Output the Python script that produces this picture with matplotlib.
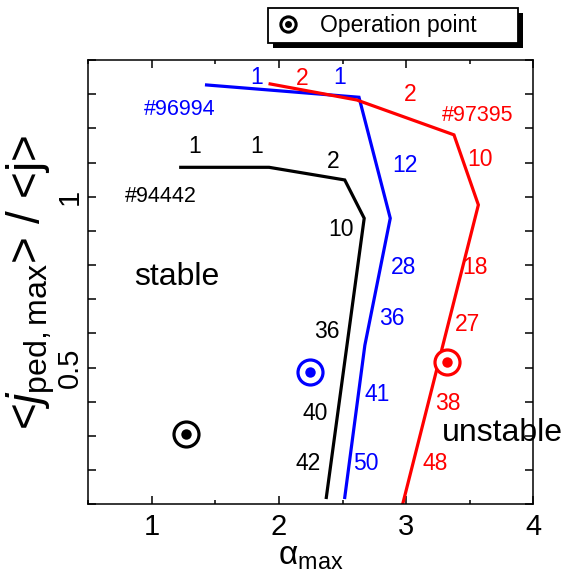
import matplotlib
matplotlib.use("Agg")
import matplotlib.pyplot as plt
from matplotlib.lines import Line2D
from matplotlib.patches import Rectangle
from matplotlib.ticker import FixedLocator, FuncFormatter, MultipleLocator

plt.rcParams['font.family'] = ['Liberation Sans', 'DejaVu Sans']
plt.rcParams['mathtext.fontset'] = 'custom'
plt.rcParams['mathtext.rm'] = 'Liberation Sans'
plt.rcParams['mathtext.it'] = 'Liberation Sans:italic'
plt.rcParams['mathtext.bf'] = 'Liberation Sans:bold'

# ---- data ----
black_x = [1.227, 1.922, 2.517, 2.670, 2.372]
black_y = [1.086, 1.086, 1.049, 0.937, 0.120]
blue_x = [1.430, 2.629, 2.875, 2.675, 2.517]
blue_y = [1.327, 1.291, 0.937, 0.565, 0.120]
red_x = [1.930, 2.612, 3.376, 3.568, 2.975]
red_y = [1.330, 1.283, 1.181, 0.976, 0.104]

op_x = [1.265, 2.244, 3.325]
op_y = [0.307, 0.487, 0.516]
op_colors = ['black', 'blue', 'red']

black_lbl = ['1', '1', '2', '10', '36', '40', '42']
black_lx = [1.336, 1.825, 2.423, 2.486, 2.380, 2.284, 2.231]
black_ly = [1.147, 1.147, 1.103, 0.903, 0.606, 0.367, 0.219]
blue_lbl = ['1', '1', '12', '28', '36', '41', '50']
blue_lx = [1.822, 2.475, 2.987, 2.981, 2.886, 2.769, 2.685]
blue_ly = [1.348, 1.348, 1.091, 0.793, 0.645, 0.420, 0.219]
red_lbl = ['2', '2', '10', '18', '27', '38', '48']
red_lx = [2.179, 3.031, 3.582, 3.539, 3.482, 3.325, 3.230]
red_ly = [1.346, 1.298, 1.108, 0.793, 0.627, 0.396, 0.219]

shot_names = ['#94442', '#96994', '#97395']
shot_x = [1.070, 1.216, 3.562]
shot_y = [1.000, 1.254, 1.239]

x_ticks = [1, 2, 3, 4]
y_labeled = [0.5, 1.0]

fig = plt.figure(figsize=(5.70, 5.81), dpi=100)
ax = fig.add_axes([88.3 / 570, 1 - 504.3 / 581, (533.3 - 88.3) / 570, (504.3 - 60) / 581])

lw = 2.3
ax.plot(black_x, black_y, color='black', lw=lw, solid_joinstyle='miter')
ax.plot(blue_x, blue_y, color='blue', lw=lw, solid_joinstyle='miter')
ax.plot(red_x, red_y, color='red', lw=lw, solid_joinstyle='miter')

for x, y, c in zip(op_x, op_y, op_colors):
    ax.plot([x], [y], 'o', ms=18, mfc='white', mec=c, mew=2.3, zorder=5)
    ax.plot([x], [y], 'o', ms=7.5, mfc=c, mec=c, mew=0, zorder=6)

fs_num = 16.5
for labels, xs, ys, c in [(black_lbl, black_lx, black_ly, 'black'),
                          (blue_lbl, blue_lx, blue_ly, 'blue'),
                          (red_lbl, red_lx, red_ly, 'red')]:
    for t, x, y in zip(labels, xs, ys):
        ax.text(x, y, t, color=c, fontsize=fs_num, ha='center', va='center')

for t, x, y, c in zip(shot_names, shot_x, shot_y, op_colors):
    ax.text(x, y, t, color=c, fontsize=15.5, ha='center', va='center')

ax.text(1.198, 0.766, 'stable', fontsize=23, ha='center', va='center')
ax.text(3.753, 0.308, 'unstable', fontsize=23, ha='center', va='center', clip_on=False)

ax.set_xlim(0.5, 4.0)
ax.set_ylim(0.1, 1.4)
ax.xaxis.set_major_locator(FixedLocator(x_ticks))
ax.xaxis.set_minor_locator(MultipleLocator(0.5))
ax.yaxis.set_major_locator(MultipleLocator(0.1))

def yfmt(v, pos):
    for t in y_labeled:
        if abs(v - t) < 1e-6:
            return '%g' % t
    return ''

ax.yaxis.set_major_formatter(FuncFormatter(yfmt))
ax.tick_params(which='both', direction='in', top=True, right=True, width=1.1)
ax.tick_params(which='major', length=5.5)
ax.tick_params(which='minor', length=3)
ax.tick_params(axis='x', labelsize=21, pad=6)
ax.tick_params(axis='y', labelsize=21, pad=3)
for lab in ax.get_yticklabels():
    lab.set_rotation(90)
    lab.set_va('center')
for s in ax.spines.values():
    s.set_linewidth(1.1)

ax.set_xlabel('α$_{\\rm max}$', fontsize=24, labelpad=0)
ax.set_ylabel('<$j_{\\rm ped,max}$> / <j>', fontsize=33)
ax.yaxis.set_label_coords(-0.07, 0.5)

# legend
h_ring = Line2D([], [], ls='none', marker='o', ms=11, mfc='white', mec='black', mew=2.2)
h_dot = Line2D([], [], ls='none', marker='o', ms=5, mfc='black', mec='black', mew=0)
leg = fig.legend([(h_ring, h_dot)], ['Operation point'], fontsize=16.5,
                 bbox_to_anchor=(268.3 / 570, 1 - 42.7 / 581, 250 / 570, 34.4 / 581),
                 loc='center', mode='expand', fancybox=False, framealpha=1,
                 edgecolor='black', borderpad=0.25, borderaxespad=0,
                 handlelength=1.2, handletextpad=0.8)
leg.get_frame().set_linewidth(1.3)
leg.set_zorder(10)

fig.canvas.draw()
bb = leg.get_frame().get_window_extent().transformed(fig.transFigure.inverted())
off_x = 5 / 570
off_y = 5 / 581
fig.add_artist(Rectangle((bb.x0 + off_x, bb.y0 - off_y), bb.width, bb.height,
                         transform=fig.transFigure, facecolor='black', edgecolor='none', zorder=9))

fig.savefig('out.png', dpi=100)
